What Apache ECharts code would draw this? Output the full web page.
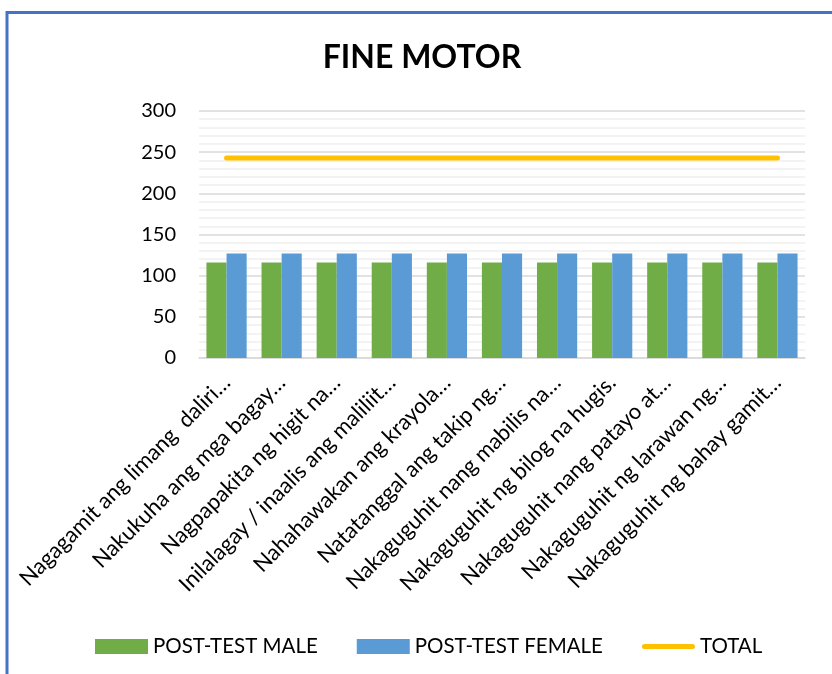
<!DOCTYPE html>
<html><head><meta charset="utf-8">
<script src="https://cdn.jsdelivr.net/npm/echarts@6/dist/echarts.min.js"></script>
<style>html,body{margin:0;padding:0;background:#fff}#c{width:832px;height:674px}</style>
</head><body><div id="c"></div>
<script>
const categories = [
  "Nagagamit ang limang  daliri…",
  "Nakukuha ang mga bagay…",
  "Nagpapakita ng higit na…",
  "Inilalagay / inaalis ang maliliit…",
  "Nahahawakan ang krayola…",
  "Natatanggal ang takip ng…",
  "Nakaguguhit nang mabilis na…",
  "Nakaguguhit ng bilog na hugis.",
  "Nakaguguhit nang patayo at…",
  "Nakaguguhit ng larawan ng…",
  "Nakaguguhit ng bahay gamit…"
];
const postTestMale = [116,116,116,116,116,116,116,116,116,116,116];
const postTestFemale = [127,127,127,127,127,127,127,127,127,127,127];
const total = [243,243,243,243,243,243,243,243,243,243,243];
const seriesNames = ["POST-TEST MALE","POST-TEST FEMALE","TOTAL"];
const titleText = "FINE MOTOR";

const FONT = "Lato";
const chart = echarts.init(document.getElementById('c'));
chart.setOption({
  animation:false,
  textStyle:{fontFamily:FONT},
  graphic:[
    {type:'line',shape:{x1:7,y1:12.5,x2:832,y2:12.5},style:{stroke:'#4472C4',lineWidth:3}},
    {type:'line',shape:{x1:7,y1:11,x2:7,y2:674},style:{stroke:'#4472C4',lineWidth:3}}
  ],
  title:{text:titleText,left:417,textAlign:'center',top:37,
    textStyle:{fontFamily:FONT,fontSize:32,fontWeight:'bold',color:'#000'}},
  legend:{bottom:12,left:90,itemWidth:53,itemHeight:15,itemGap:39,
    textStyle:{fontFamily:FONT,fontSize:20.5,color:'#000'},
    data:[{name:seriesNames[0],icon:'rect'},{name:seriesNames[1],icon:'rect'},
      {name:seriesNames[2],icon:'path://M2.5,0 H50.5 A2.5,2.5 0 0 1 50.5,5 H2.5 A2.5,2.5 0 0 1 2.5,0 Z',
       itemStyle:{color:'#FFC000'}}]},
  grid:{left:199,right:27,top:111,bottom:316,containLabel:false},
  xAxis:{type:'category',data:categories,
    axisLine:{lineStyle:{color:'#d9d9d9',width:1.5}},axisTick:{show:false},
    axisLabel:{rotate:45,interval:0,fontFamily:FONT,fontSize:22,color:'#000',margin:21}},
  yAxis:{type:'value',min:0,max:300,interval:50,
    axisLabel:{fontFamily:FONT,fontSize:20,color:'#000',margin:23},
    axisLine:{show:false},axisTick:{show:false},
    splitLine:{lineStyle:{color:'#d9d9d9',width:1.5}},
    minorTick:{show:false,splitNumber:5},
    minorSplitLine:{show:true,lineStyle:{color:'#efefef',width:1.5}}},
  series:[
    {name:seriesNames[0],type:'bar',data:postTestMale,barGap:'0%',barCategoryGap:'27%',
      itemStyle:{color:'#70AD47'}},
    {name:seriesNames[1],type:'bar',data:postTestFemale,itemStyle:{color:'#5B9BD5'}},
    {name:seriesNames[2],type:'line',data:total,symbol:'none',
      lineStyle:{color:'#FFC000',width:5,cap:'round'},itemStyle:{color:'#FFC000'}}
  ]
});
</script></body></html>
